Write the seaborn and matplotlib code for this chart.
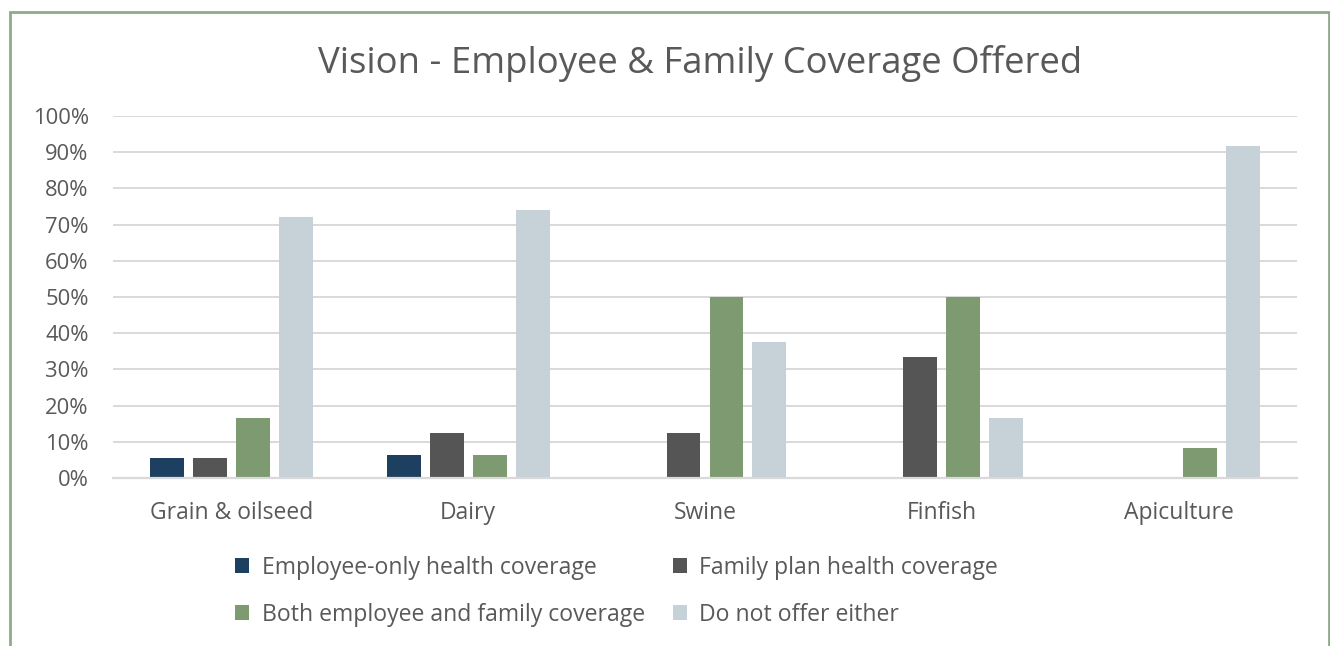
import matplotlib
matplotlib.use("Agg")
import matplotlib.pyplot as plt
import seaborn as sns
import pandas as pd
from matplotlib.patches import Patch, Rectangle
from matplotlib.ticker import FuncFormatter

# Share of operations (%) offering each type of vision coverage, by sector
sectors = ["Grain & oilseed", "Dairy", "Swine", "Finfish", "Apiculture"]
series_names = [
    "Employee-only health coverage",
    "Family plan health coverage",
    "Both employee and family coverage",
    "Do not offer either",
]
employee_only = [5.6, 6.25, 0, 0, 0]
family_plan = [5.6, 12.5, 12.5, 33.3, 0]
both_offered = [16.7, 6.25, 50.0, 50.0, 8.3]
neither_offered = [72.2, 74.1, 37.5, 16.7, 91.7]
y_ticks = [0, 10, 20, 30, 40, 50, 60, 70, 80, 90, 100]

colors = ["#1E4060", "#555555", "#7D9A71", "#C6D1D8"]
text_color = "#595959"
grid_color = "#D9D9D9"

rows = []
for name, vals in zip(series_names, [employee_only, family_plan, both_offered, neither_offered]):
    for sector, v in zip(sectors, vals):
        rows.append({"Sector": sector, "Coverage": name, "Share": v})
df = pd.DataFrame(rows)

sns.set_theme(style="white")
plt.rcParams["font.family"] = ["Open Sans", "DejaVu Sans"]

W, H = 1330, 646
fig = plt.figure(figsize=(W / 100, H / 100), dpi=100)
ax = fig.add_axes([113 / W, 1 - 478 / H, (1297 - 113) / W, (478 - 116) / H])

sns.barplot(
    data=df, x="Sector", y="Share", hue="Coverage",
    order=sectors, hue_order=series_names, palette=colors,
    width=0.726, gap=0.21, linewidth=0, saturation=1,
    errorbar=None, legend=False, ax=ax,
)

ax.set_ylim(0, 100)
ax.set_xlim(-0.5, len(sectors) - 0.5)
ax.set_yticks(y_ticks)
ax.yaxis.set_major_formatter(FuncFormatter(lambda v, _: f"{v:.0f}%"))
ax.yaxis.grid(True, color=grid_color, linewidth=1.4)
ax.set_axisbelow(True)
for side in ["left", "right", "top"]:
    ax.spines[side].set_visible(False)
ax.spines["bottom"].set_color(grid_color)
ax.spines["bottom"].set_linewidth(1.6)
ax.set_xlabel("")
ax.set_ylabel("")
ax.tick_params(axis="y", length=0, pad=17.5, labelsize=15.8, labelcolor=text_color)
ax.tick_params(axis="x", length=0, pad=16.5, labelsize=16.5, labelcolor=text_color)

fig.text(700 / W, 1 - 63 / H, "Vision - Employee & Family Coverage Offered",
         ha="center", va="center", fontsize=26.3, color=text_color)

# Legend laid out row by row: two entries per row
order = [0, 2, 1, 3]
handles = [Patch(facecolor=colors[i], edgecolor="none") for i in order]
labels = [series_names[i] for i in order]
fig.legend(
    handles, labels, ncol=2, loc="upper left",
    bbox_to_anchor=(235 / W, 1 - 556 / H), frameon=False,
    fontsize=16.6, labelcolor=text_color,
    handlelength=0.61, handleheight=0.61, handletextpad=0.55,
    columnspacing=1.2, labelspacing=0.98, borderpad=0, borderaxespad=0,
)

# Frame around the chart area
fig.add_artist(Rectangle(
    (10 / W, -0.1), (1329 - 10) / W, (1 - 12 / H) + 0.1,
    transform=fig.transFigure, fill=False, edgecolor="#8FAA8B", linewidth=2,
    clip_on=False,
))

fig.savefig("out.png", dpi=100, facecolor="white")
